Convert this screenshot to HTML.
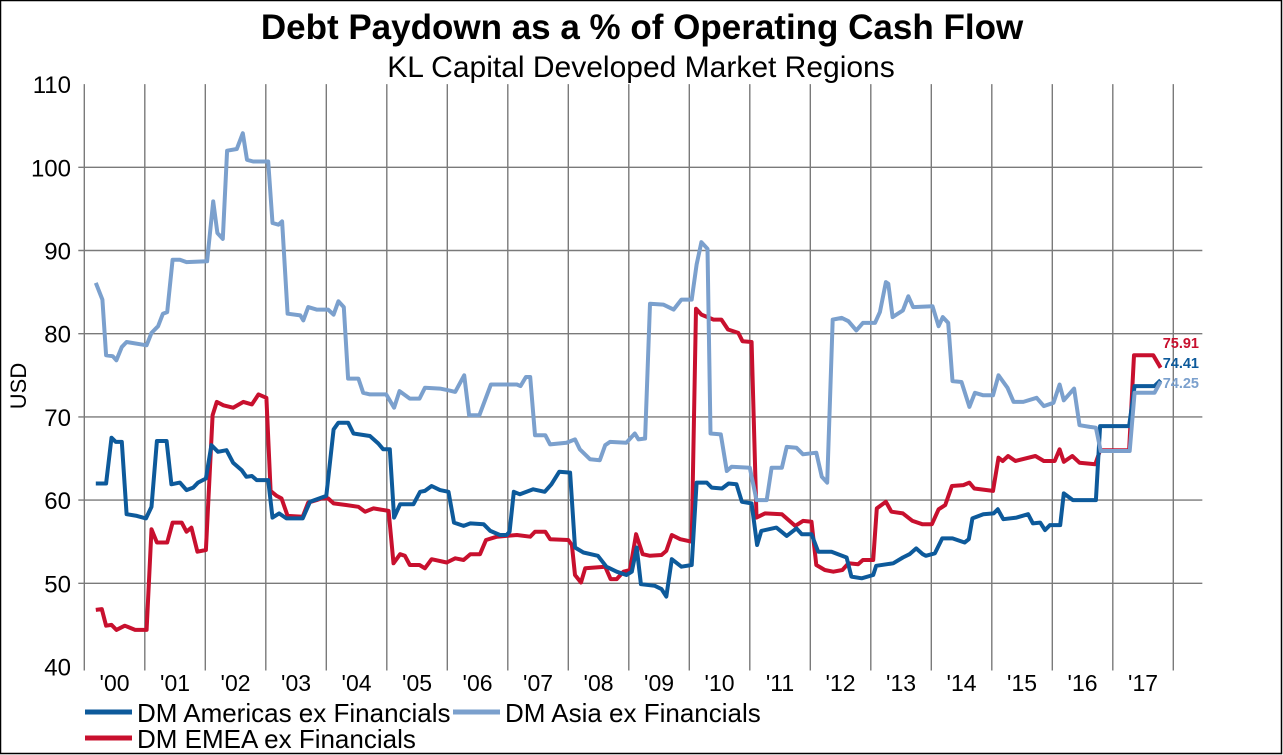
<!DOCTYPE html>
<html><head><meta charset="utf-8"><style>
body{margin:0;background:#fff;}
svg{display:block;font-family:"Liberation Sans",Arial,sans-serif;}
</style></head><body>
<svg id="chart" width="1283" height="755" viewBox="0 0 1283 755">
<rect x="0.5" y="0.5" width="1281" height="753" fill="#fff" stroke="#000" stroke-width="1.5"/>
<text x="642" y="39" text-anchor="middle" font-size="35" font-weight="bold">Debt Paydown as a % of Operating Cash Flow</text>
<text x="641" y="77" text-anchor="middle" font-size="30">KL Capital Developed Market Regions</text>
<text transform="translate(26,386) rotate(-90)" text-anchor="middle" font-size="22">USD</text>
<g id="grid"></g>
<g id="ylabels"></g>
<g id="xlabels"></g>
<g id="series"></g>
<g id="endlabels"></g>
<g>
<line x1="85" y1="712" x2="132" y2="712" stroke="#0d5a9b" stroke-width="5"/>
<text x="137" y="722" font-size="26">DM Americas ex Financials</text>
<line x1="453" y1="712" x2="500" y2="712" stroke="#7ba0cd" stroke-width="5"/>
<text x="505" y="722" font-size="26">DM Asia ex Financials</text>
<line x1="85" y1="738" x2="132" y2="738" stroke="#c8102e" stroke-width="5"/>
<text x="137" y="748" font-size="26">DM EMEA ex Financials</text>
</g>
</svg>
<script>
const yearLabels = ["'00","'01","'02","'03","'04","'05","'06","'07","'08","'09","'10","'11","'12","'13","'14","'15","'16","'17"];
const yTicks = [40,50,60,70,80,90,100,110];
const amT = [0.19,0.36,0.45,0.52,0.62,0.70,0.87,1.02,1.11,1.20,1.36,1.44,1.58,1.69,1.80,1.88,2.01,2.10,2.21,2.35,2.46,2.60,2.68,2.77,2.85,3.04,3.11,3.22,3.34,3.61,3.73,4.00,4.12,4.20,4.36,4.45,4.72,4.86,4.94,5.05,5.12,5.22,5.44,5.55,5.63,5.74,5.88,6.02,6.11,6.27,6.38,6.60,6.71,6.87,6.98,7.03,7.10,7.20,7.42,7.61,7.72,7.85,8.03,8.11,8.25,8.49,8.63,8.80,8.96,9.05,9.13,9.20,9.43,9.54,9.62,9.71,9.87,10.04,10.12,10.29,10.37,10.54,10.65,10.78,10.87,11.03,11.12,11.19,11.44,11.61,11.77,11.86,12.02,12.13,12.35,12.60,12.68,12.85,13.04,13.09,13.37,13.53,13.64,13.75,13.86,13.91,14.06,14.18,14.35,14.55,14.62,14.68,14.86,15.03,15.10,15.19,15.41,15.60,15.68,15.80,15.88,15.96,16.13,16.19,16.34,16.72,16.79,17.27,17.36,17.69,17.79];
const amV = [62.0,62.0,67.5,67.0,67.0,58.3,58.1,57.8,59.2,67.1,67.1,61.9,62.1,61.2,61.5,62.1,62.6,66.6,65.8,66.0,64.5,63.6,62.8,62.9,62.4,62.4,57.9,58.4,57.8,57.8,59.8,60.5,68.5,69.3,69.3,68.0,67.7,66.8,66.1,66.1,57.9,59.5,59.5,61.0,61.1,61.7,61.2,61.0,57.3,56.9,57.2,57.1,56.3,55.8,55.8,56.2,61.0,60.7,61.3,61.0,61.9,63.4,63.3,54.3,53.7,53.3,52.0,51.4,51.0,51.4,54.3,49.9,49.7,49.3,48.4,52.9,52.0,52.2,62.1,62.1,61.5,61.4,62.0,61.9,59.8,59.6,54.6,56.3,56.7,55.7,56.6,55.9,55.9,53.8,53.8,53.1,50.8,50.6,51.0,52.1,52.4,53.1,53.5,54.2,53.5,53.3,53.6,55.4,55.4,54.9,55.3,57.8,58.3,58.4,58.9,57.7,57.9,58.3,57.2,57.3,56.4,57.0,57.0,60.8,60.0,60.0,68.9,68.9,73.7,73.7,74.41];
const asT = [0.19,0.30,0.36,0.47,0.53,0.62,0.70,1.03,1.11,1.22,1.30,1.37,1.46,1.58,1.69,2.03,2.13,2.20,2.29,2.36,2.52,2.62,2.69,2.79,3.04,3.11,3.21,3.27,3.36,3.57,3.62,3.70,3.84,4.03,4.12,4.20,4.29,4.36,4.53,4.61,4.72,4.99,5.12,5.21,5.38,5.54,5.63,5.88,6.02,6.13,6.28,6.36,6.53,6.72,7.15,7.21,7.30,7.37,7.45,7.62,7.70,7.97,8.11,8.19,8.36,8.52,8.61,8.69,8.96,9.10,9.16,9.27,9.35,9.57,9.74,9.87,10.04,10.12,10.20,10.30,10.35,10.52,10.62,10.70,11.00,11.11,11.28,11.36,11.53,11.61,11.77,11.88,12.10,12.19,12.28,12.37,12.52,12.63,12.76,12.87,13.07,13.15,13.25,13.29,13.36,13.53,13.62,13.70,14.02,14.12,14.19,14.28,14.35,14.50,14.63,14.72,14.86,15.02,15.11,15.26,15.36,15.52,15.74,15.86,16.02,16.12,16.19,16.36,16.45,16.62,16.72,16.80,17.28,17.36,17.69,17.79];
const asV = [86.1,84.1,77.4,77.3,76.8,78.4,79.0,78.6,80.1,80.9,82.4,82.6,88.9,88.9,88.6,88.7,95.9,92.1,91.4,102.0,102.2,104.1,100.9,100.7,100.7,93.3,93.1,93.5,82.4,82.2,81.6,83.2,82.9,82.9,82.3,83.9,83.2,74.6,74.6,72.9,72.7,72.7,71.1,73.1,72.2,72.2,73.5,73.4,73.2,73.0,75.0,70.2,70.2,73.9,73.9,73.7,74.8,74.8,67.8,67.8,66.7,66.9,67.3,66.1,64.9,64.8,66.6,67.0,66.9,68.0,67.3,67.4,83.6,83.5,82.9,84.1,84.1,88.3,91.0,90.2,68.0,67.9,63.5,64.0,63.9,60.0,60.0,63.9,63.9,66.4,66.3,65.5,65.7,62.8,62.1,81.7,81.9,81.5,80.4,81.3,81.3,82.6,86.2,86.0,82.0,82.8,84.5,83.2,83.3,80.9,82.0,81.3,74.3,74.2,71.2,72.9,72.6,72.6,75.0,73.5,71.8,71.8,72.3,71.3,71.7,73.9,72.0,73.4,69.0,68.8,68.7,65.9,65.9,72.9,72.9,74.25];
const emT = [0.19,0.29,0.36,0.45,0.53,0.67,0.84,1.03,1.11,1.20,1.37,1.46,1.61,1.69,1.77,1.87,2.01,2.12,2.19,2.30,2.46,2.63,2.77,2.88,3.01,3.08,3.18,3.26,3.36,3.61,3.70,3.84,3.92,4.03,4.12,4.34,4.53,4.64,4.78,5.03,5.11,5.22,5.30,5.38,5.54,5.63,5.74,5.99,6.13,6.27,6.38,6.54,6.64,6.82,7.15,7.37,7.45,7.62,7.70,8.00,8.06,8.11,8.21,8.28,8.61,8.70,8.80,8.91,9.02,9.12,9.23,9.35,9.54,9.62,9.71,9.85,10.04,10.11,10.20,10.40,10.53,10.64,10.81,10.88,11.03,11.11,11.25,11.53,11.75,11.88,12.02,12.10,12.24,12.38,12.53,12.63,12.79,12.87,13.04,13.10,13.25,13.34,13.53,13.69,13.85,14.01,14.12,14.23,14.34,14.53,14.63,14.71,15.02,15.11,15.18,15.27,15.39,15.72,15.86,16.04,16.12,16.19,16.33,16.45,16.71,16.79,17.27,17.35,17.67,17.79];
const emV = [46.8,46.9,44.9,45.0,44.4,44.9,44.4,44.4,56.5,54.9,54.9,57.3,57.3,56.2,56.7,53.8,54.0,70.2,71.8,71.4,71.1,71.8,71.5,72.7,72.3,61.1,60.5,60.2,58.1,58.0,59.7,60.0,60.2,60.2,59.6,59.4,59.2,58.6,59.0,58.7,52.4,53.5,53.3,52.2,52.2,51.8,52.9,52.5,53.0,52.8,53.5,53.5,55.2,55.6,55.8,55.6,56.2,56.2,55.3,55.2,54.6,51.0,50.1,51.8,52.0,50.5,50.5,51.4,51.6,55.9,53.5,53.3,53.4,53.9,55.8,55.3,55.0,83.0,82.3,81.7,81.7,80.5,80.1,79.1,79.0,57.9,58.4,58.3,56.9,57.5,57.4,52.2,51.6,51.4,51.6,52.4,52.3,52.8,52.8,59.0,59.8,58.6,58.4,57.5,57.1,57.1,58.9,59.4,61.7,61.8,62.1,61.4,61.1,65.1,64.7,65.3,64.7,65.3,64.7,64.7,66.1,64.6,65.3,64.5,64.3,66.0,66.0,77.4,77.4,75.91];

const NS='http://www.w3.org/2000/svg';
const X0=84.3, XS=60.5, XMAX=18.48;
function xPos(t){return X0+t*XS;}
function yPos(v){return 666.5-(v-40)*8.32;}
function mk(tag,attrs,parent){const e=document.createElementNS(NS,tag);for(const k in attrs)e.setAttribute(k,attrs[k]);parent.appendChild(e);return e;}
const grid=document.getElementById('grid');
for(const v of yTicks){
  if(v===40||v===110) continue;
  const l=mk('line',{x1:xPos(0)-6,x2:xPos(XMAX),y1:yPos(v),y2:yPos(v),stroke:'#7a7a7a','stroke-width':1.4},grid);
  
  
}
for(let k=0;k<=yearLabels.length;k++){
  const l=mk('line',{x1:xPos(k),x2:xPos(k),y1:yPos(110),y2:yPos(40)+4,stroke:'#7a7a7a','stroke-width':1.4},grid);
  
  
}
const yl=document.getElementById('ylabels');
for(const v of yTicks){
  const t=mk('text',{x:71,y:yPos(v)+9,'text-anchor':'end','font-size':24},yl);
  t.textContent=v;
  
  
}
const xl=document.getElementById('xlabels');
yearLabels.forEach((s,i)=>{
  const t=mk('text',{x:xPos(i+0.5),y:691,'text-anchor':'middle','font-size':23},xl);
  t.textContent=s;
  
  
});
const sg=document.getElementById('series');
function drawSeries(ts,vs,color,name){
  const pts=ts.map((t,i)=>xPos(t).toFixed(1)+','+yPos(vs[i]).toFixed(1)).join(' ');
  const p=mk('polyline',{points:pts,fill:'none',stroke:color,'stroke-width':4,'stroke-linejoin':'round'},sg);
  
  
}
drawSeries(emT,emV,'#c8102e','line-emea');
drawSeries(amT,amV,'#0d5a9b','line-americas');
drawSeries(asT,asV,'#7ba0cd','line-asia');
const el=document.getElementById('endlabels');
const ends=[[emV,'#c8102e',343,'end-label-emea'],[amV,'#0d5a9b',363,'end-label-americas'],[asV,'#7ba0cd',383,'end-label-asia']];
for(const [arr,c,y,n] of ends){
  const t=mk('text',{x:1199,y:y+5,'text-anchor':'end','font-size':14.5,'font-weight':'bold',fill:c},el);
  t.textContent=arr[arr.length-1].toFixed(2);
  
  
}
</script>
</body></html>
